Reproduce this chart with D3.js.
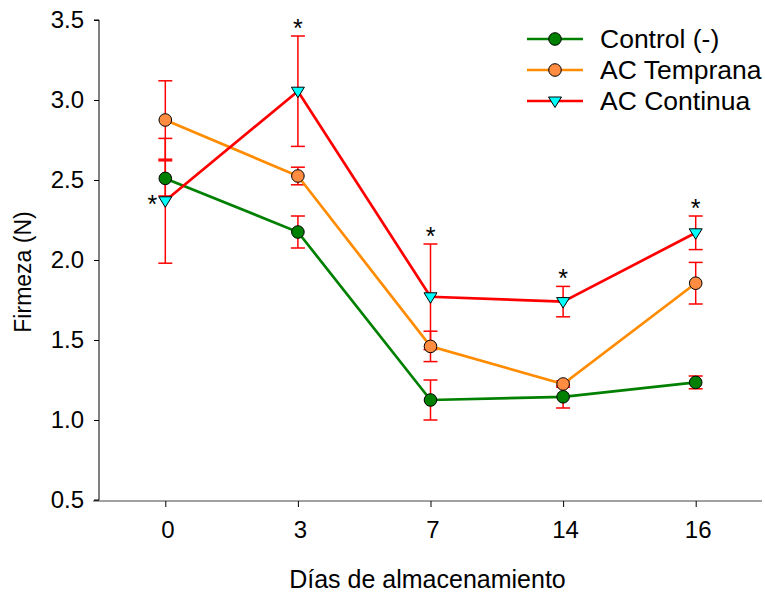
<!DOCTYPE html>
<html>
<head>
<meta charset="utf-8">
<script src="https://cdn.jsdelivr.net/npm/d3@7"></script>
<style>
  body { margin: 0; background: #fff; }
  text { font-family: "Liberation Sans", Arial, sans-serif; }
</style>
</head>
<body>
<div id="chart"></div>
<script>
// Data
var days = ["0", "3", "7", "14", "16"];
var yTicks = [0.5, 1.0, 1.5, 2.0, 2.5, 3.0, 3.5];

var controlMean = [2.51, 2.175, 1.125, 1.145, 1.235];
var controlErr  = [0.11, 0.10, 0.125, 0.07, 0.04];
var tempranaMean = [2.875, 2.525, 1.46, 1.225, 1.855];
var tempranaErr  = [0.245, 0.055, 0.095, 0.02, 0.13];
var continuaMean = [2.37, 3.055, 1.77, 1.74, 2.17];
var continuaErr  = [0.39, 0.345, 0.33, 0.095, 0.105];

// asterisks for significance, on the AC Continua series
var starDays = ["0", "3", "7", "14", "16"];

var series = [
  {name: "Control (-)", mean: controlMean, err: controlErr, line: "#008000", fill: "#008000", shape: "circle"},
  {name: "AC Temprana", mean: tempranaMean, err: tempranaErr, line: "#ff8c00", fill: "#ff8c40", shape: "circle"},
  {name: "AC Continua", mean: continuaMean, err: continuaErr, line: "#ff0000", fill: "#00ffff", shape: "triangle"}
];

var width = 765, height = 596;
var plotLeft = 99, plotRight = 762, plotTop = 20, plotBottom = 500;

var svg = d3.select("#chart").append("svg")
    .attr("width", width)
    .attr("height", height);

var x = d3.scalePoint().domain(days).range([plotLeft, plotRight]).padding(0.5);
var y = d3.scaleLinear().domain([0.5, 3.5]).range([plotBottom, plotTop]);

// Axes
var yAxis = d3.axisLeft(y).tickValues(yTicks).tickFormat(d3.format(".1f")).tickSize(5).tickPadding(10);
var gy = svg.append("g").attr("transform", "translate(" + plotLeft + ",0)").call(yAxis);
gy.select(".domain").attr("d", "M-5," + plotTop + "H0V" + plotBottom + "H-5").attr("stroke", "#000");
gy.selectAll("text").attr("font-size", 24).attr("fill", "#000");

var xAxis = d3.axisBottom(x).tickSize(6).tickPadding(14);
var gx = svg.append("g").attr("transform", "translate(0," + (plotBottom + 1) + ")").call(xAxis);
gx.select(".domain").attr("d", "M" + (plotLeft - 6) + ",0H" + plotRight).attr("stroke", "#444");
gx.selectAll("text").attr("font-size", 24).attr("fill", "#000").attr("dx", 2);

svg.append("text")
    .attr("x", (plotLeft + plotRight) / 2 - 3)
    .attr("y", 588)
    .attr("text-anchor", "middle")
    .attr("font-size", 25)
    .text("Días de almacenamiento");

svg.append("text")
    .attr("transform", "translate(31," + ((plotTop + plotBottom) / 2 + 12) + ") rotate(-90)")
    .attr("text-anchor", "middle")
    .attr("font-size", 23)
    .text("Firmeza (N)");

function drawMarker(g, s, cx, cy) {
  if (s.shape === "circle") {
    g.append("circle").attr("cx", cx).attr("cy", cy).attr("r", 6.3)
      .attr("fill", s.fill).attr("stroke", "#000").attr("stroke-width", 1);
  } else {
    g.append("path")
      .attr("d", "M" + (cx - 6.5) + "," + (cy - 4) + "L" + (cx + 6.5) + "," + (cy - 4) + "L" + cx + "," + (cy + 6.5) + "Z")
      .attr("fill", s.fill).attr("stroke", "#000").attr("stroke-width", 1);
  }
}

// Error bars (all red)
series.forEach(function(s) {
  var g = svg.append("g");
  days.forEach(function(d, i) {
    var cx = x(d), hi = y(s.mean[i] + s.err[i]), lo = y(s.mean[i] - s.err[i]);
    g.append("line").attr("x1", cx).attr("x2", cx).attr("y1", hi).attr("y2", lo)
      .attr("stroke", "#ff0000").attr("stroke-width", 1.5);
    [hi, lo].forEach(function(yy) {
      g.append("line").attr("x1", cx - 7).attr("x2", cx + 7).attr("y1", yy).attr("y2", yy)
        .attr("stroke", "#ff0000").attr("stroke-width", 1.5);
    });
  });
});

// Lines and markers
var line = d3.line().x(function(d, i) { return x(days[i]); }).y(function(d) { return y(d); });
series.forEach(function(s) {
  svg.append("path").datum(s.mean).attr("d", line)
    .attr("fill", "none").attr("stroke", s.line).attr("stroke-width", 2.7);
});
series.forEach(function(s) {
  var g = svg.append("g");
  s.mean.forEach(function(v, i) { drawMarker(g, s, x(days[i]), y(v)); });
});

// Asterisks
var cont = series[2];
starDays.forEach(function(d) {
  var i = days.indexOf(d);
  var t = svg.append("text").attr("font-size", 25).attr("text-anchor", "middle").text("*");
  if (i === 0) {
    t.attr("x", x(d) - 13).attr("y", y(cont.mean[i]) + 12);
  } else {
    t.attr("x", x(d)).attr("y", y(cont.mean[i] + cont.err[i]) + 1);
  }
});

// Legend
var legend = svg.append("g");
series.forEach(function(s, i) {
  var ly = 39 + i * 31;
  legend.append("line").attr("x1", 527).attr("x2", 583).attr("y1", ly).attr("y2", ly)
    .attr("stroke", s.line).attr("stroke-width", 2.7);
  drawMarker(legend, s, 555, ly);
  legend.append("text").attr("x", 600).attr("y", ly + 9).attr("font-size", 26.5).text(s.name);
});
</script>
</body>
</html>
